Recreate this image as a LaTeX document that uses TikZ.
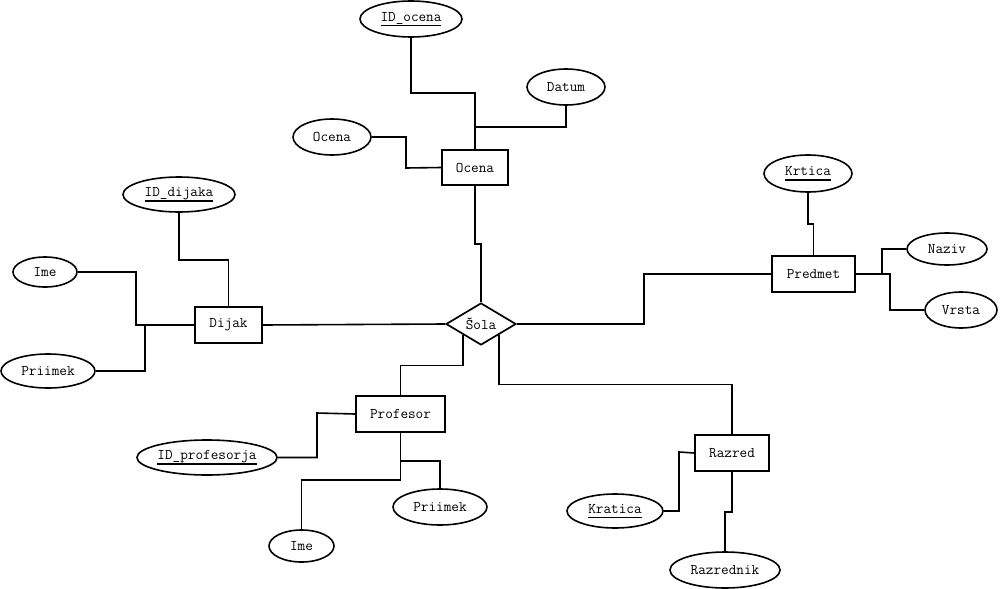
\documentclass[tikz,border=0pt]{standalone}
\usepackage{fontspec}
\usetikzlibrary{shapes.geometric}
\newcommand\keyul[1]{\setbox0\hbox{#1}\rlap{\rule[-5pt]{\wd0}{1.5pt}}\box0}
\begin{document}
\begin{tikzpicture}[x=1pt,y=-1pt,
  every node/.style={font=\ttfamily\fontsize{14.8}{16}\selectfont, inner sep=0pt},
  ent/.style={draw, line width=1.6pt, rectangle, minimum height=36pt},
  attr/.style={draw, line width=1.6pt, ellipse},
  rel/.style={draw, line width=1.7pt, diamond, aspect=1.667, minimum width=70pt, minimum height=42pt},
  conn/.style={line width=1.6pt}]
\fill[white] (0,0) rectangle (1004,589);
\useasboundingbox (0,0) rectangle (1004,589);

% entities
\node[ent, minimum width=66pt, minimum height=35pt] (ocena) at (475,167.5) {Ocena};
\node[ent, minimum width=67pt] (dijak) at (228.5,325) {Dijak};
\node[ent, minimum width=83pt] (predmet) at (813.5,274) {Predmet};
\node[ent, minimum width=89pt] (profesor) at (400.5,414) {Profesor};
\node[ent, minimum width=74pt] (razred) at (732,453) {Razred};
\node[rel] (sola) at (481,324) {Šola};

% attributes
\node[attr, minimum width=102pt, minimum height=36pt] (idocena) at (411,19) {\keyul{ID\_ocena}};
\node[attr, minimum width=78pt, minimum height=36pt] (datum) at (566,87) {Datum};
\node[attr, minimum width=78pt, minimum height=36pt] (ocenaattr) at (332,137) {Ocena};
\node[attr, minimum width=112pt, minimum height=35pt] (iddijaka) at (179,194.5) {\keyul{ID\_dijaka}};
\node[attr, minimum width=64pt, minimum height=30pt] (ime1) at (45,272) {Ime};
\node[attr, minimum width=94pt, minimum height=34pt] (priimek1) at (48,371) {Priimek};
\node[attr, minimum width=88pt, minimum height=37pt] (krtica) at (808,173.5) {\keyul{Krtica}};
\node[attr, minimum width=80pt, minimum height=32pt] (naziv) at (947,249) {Naziv};
\node[attr, minimum width=72pt, minimum height=36pt] (vrsta) at (961,310) {Vrsta};
\node[attr, minimum width=140pt, minimum height=35pt] (idprof) at (207,457.5) {\keyul{ID\_profesorja}};
\node[attr, minimum width=94pt, minimum height=36pt] (priimek2) at (440,507) {Priimek};
\node[attr, minimum width=65pt, minimum height=32pt] (ime2) at (301.5,546) {Ime};
\node[attr, minimum width=96pt, minimum height=34pt] (kratica) at (615,511) {\keyul{Kratica}};
\node[attr, minimum width=110pt, minimum height=36pt] (razrednik) at (725,570) {Razrednik};

\coordinate (jdatum) at (475,127);
\coordinate (jdijak) at (145,325);
\coordinate (jnaziv) at (882,274);

% Ocena connectors
\draw[conn] (idocena.south) -- (411,93) -| (ocena.north);
\draw[conn] (datum.south) |- (jdatum);
\draw[conn] (ocenaattr.east) -| (406,168) -- (ocena.west);
\draw[conn] (ocena.south) |- (481,244) -- (sola.north);

% relationship connectors
\draw[conn] (sola.west) -- (dijak.east);
\draw[conn] (sola.east) -- (644,324) |- (predmet.west);
\draw[conn] (sola.south west) -- ++(0,30.5) -| (profesor.north);
\draw[conn] (sola.south east) -- ++(0,49.5) -| (razred.north);

% Dijak
\draw[conn] (iddijaka.south) -- ++(0,47) -| (dijak.north);
\draw[conn] (ime1.east) -| (136,325) -- (dijak.west);
\draw[conn] (priimek1.east) -| (jdijak);

% Predmet
\draw[conn] (krtica.south) -- ++(0,31) -| (predmet.north);
\draw[conn] (predmet.east) -- (890,274) |- (vrsta.west);
\draw[conn] (jnaziv) |- (naziv.west);

% Profesor
\draw[conn] (idprof.east) -| (317,413) -- (profesor.west);
\draw[conn] (profesor.south) -- ++(0,47) -| (ime2.north);
\draw[conn] (profesor.south) ++(0,28) -| (priimek2.north);

% Razred
\draw[conn] (kratica.east) -| (679,452) -- (razred.west);
\draw[conn] (razred.south) -- ++(0,40) -| (razrednik.north);
\end{tikzpicture}
\end{document}
